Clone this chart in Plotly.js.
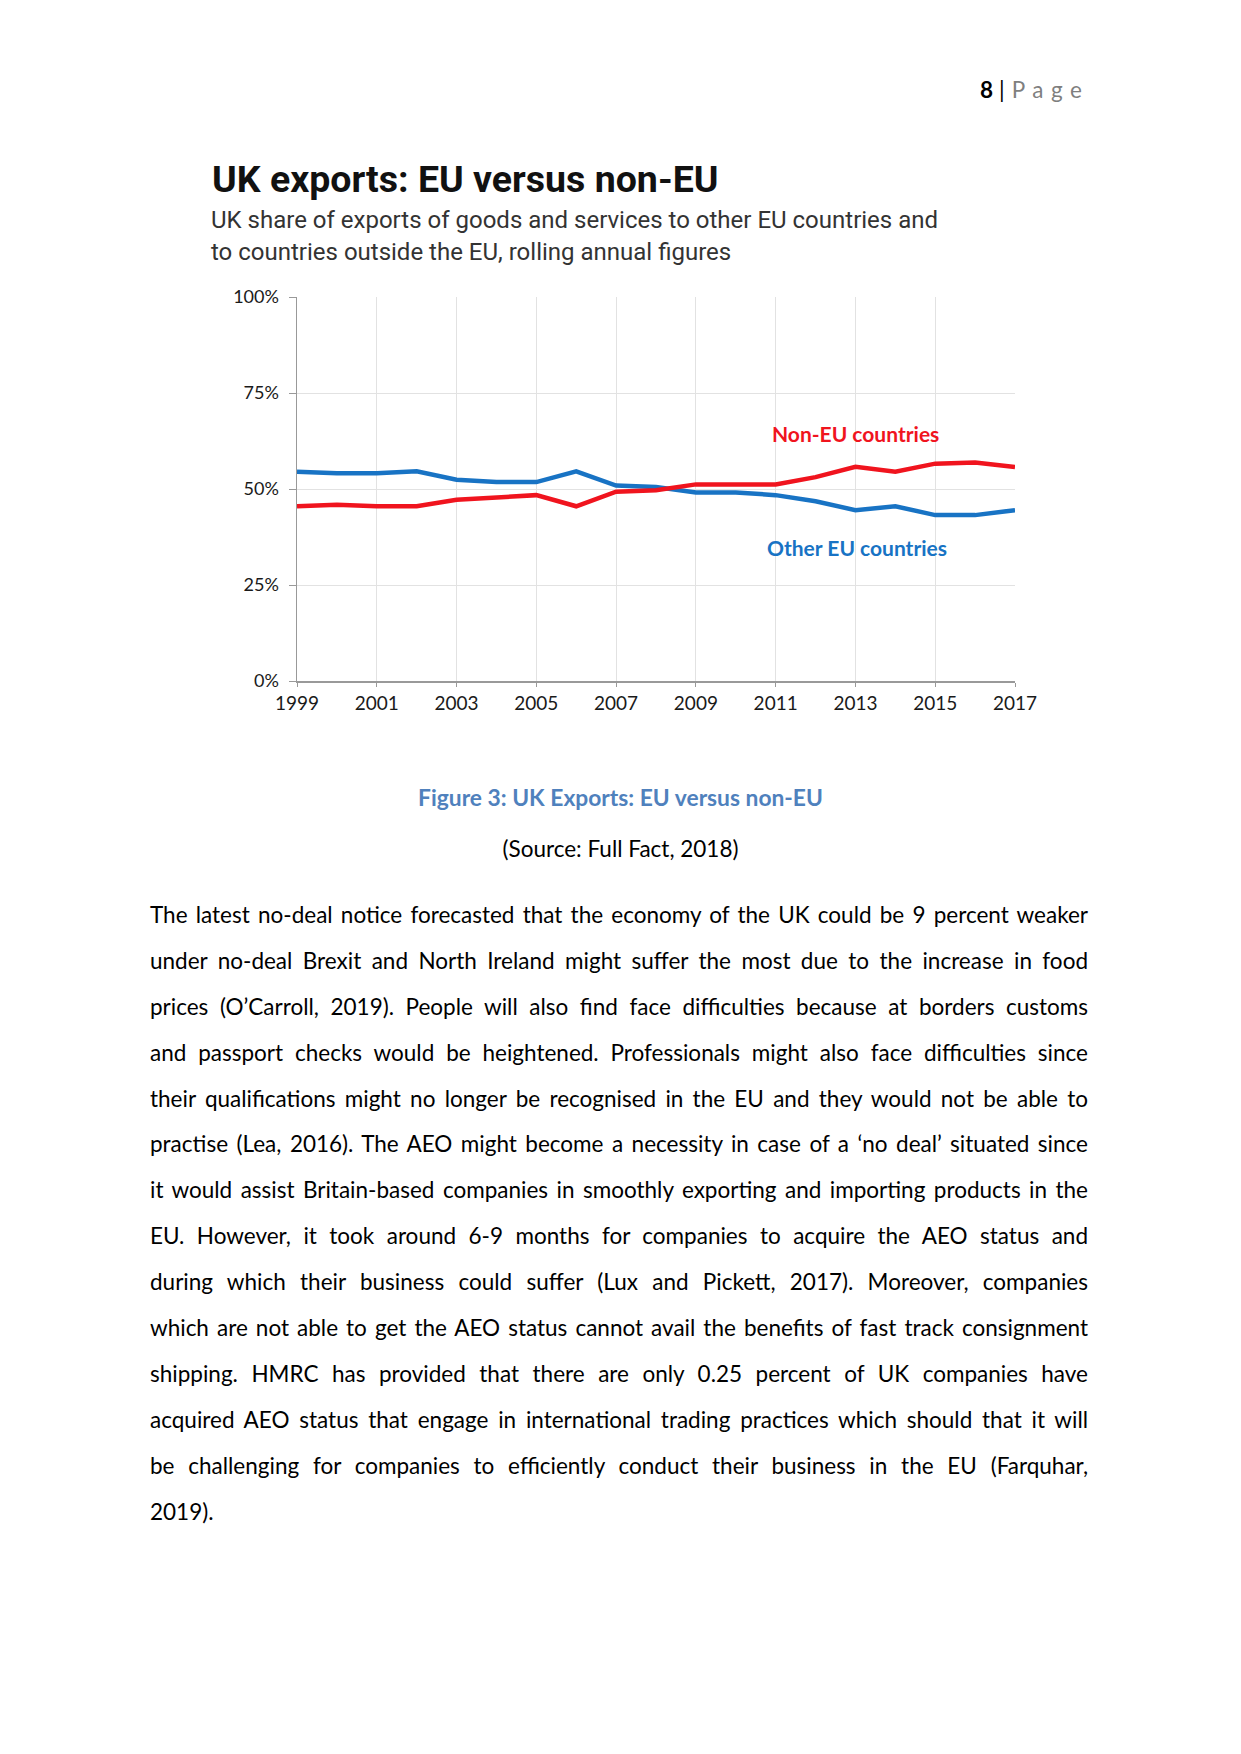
<!DOCTYPE html>
<html>
<head>
<meta charset="utf-8">
<script src="https://cdn.plot.ly/plotly-3.0.1.min.js"></script>
<style>
  html, body { margin:0; padding:0; background:#fff; }
  body { width:1241px; height:1754px; position:relative; overflow:hidden; font-family: Lato, "Noto Sans", sans-serif; }
  #chart { position:absolute; left:0; top:130px; width:1241px; height:610px; }
  .hdr { position:absolute; top:74px; left:980px; font-size:22.5px; line-height:32px; white-space:nowrap; }
  .hdr b { color:#000; font-weight:700; }
  .hdr .bar { color:#000; margin:0 7px 0 6px; }
  .hdr .pg { color:#7f7f7f; letter-spacing:7.5px; }
  .cap { position:absolute; left:0; width:1241px; text-align:center; white-space:nowrap; }
  #caption { top:781px; color:#4f81bd; font-weight:700; font-size:22.8px; line-height:32px; }
  #source { top:833px; color:#000; font-size:22.5px; line-height:32px; }
  #body { position:absolute; left:150px; top:892px; width:938px; font-size:22.5px; line-height:45.9px; color:#000; }
  .ln { white-space:nowrap; height:45.9px; }
</style>
</head>
<body>
<div class="hdr"><b>8</b><span class="bar">|</span><span class="pg">Page</span></div>
<div id="chart"></div>
<div class="cap" id="caption">Figure 3: UK Exports: EU versus non-EU</div>
<div class="cap" id="source">(Source: Full Fact, 2018)</div>
<div id="body"></div>
<script>
// ---- chart data ----
const years = [1999,2000,2001,2002,2003,2004,2005,2006,2007,2008,2009,2010,2011,2012,2013,2014,2015,2016,2017];
const otherEU = [54.5,54.1,54.1,54.6,52.4,51.8,51.8,54.6,50.9,50.5,49.1,49.1,48.4,46.8,44.5,45.5,43.2,43.2,44.5];
const nonEU   = [45.5,45.9,45.5,45.5,47.2,47.9,48.4,45.5,49.3,49.7,51.2,51.2,51.2,53.1,55.8,54.5,56.6,56.9,55.7];
const xTickVals = [1999,2001,2003,2005,2007,2009,2011,2013,2015,2017];
const yTickVals = [0,25,50,75,100];
const yTickText = ["0%","25%","50%","75%","100%"];
const chartTitle = "UK exports: EU versus non-EU";
const subtitleLines = ["UK share of exports of goods and services to other EU countries and",
                       "to countries outside the EU, rolling annual figures"];
const seriesNames = ["Other EU countries","Non-EU countries"];

// ---- body text ----
const bodyLines = [
 "The latest no-deal notice forecasted that the economy of the UK could be 9 percent weaker",
 "under no-deal Brexit and North Ireland might suffer the most due to the increase in food",
 "prices (O\u2019Carroll, 2019). People will also find face difficulties because at borders customs",
 "and passport checks would be heightened. Professionals might also face difficulties since",
 "their qualifications might no longer be recognised in the EU and they would not be able to",
 "practise (Lea, 2016). The AEO might become a necessity in case of a \u2018no deal\u2019 situated since",
 "it would assist Britain-based companies in smoothly exporting and importing products in the",
 "EU. However, it took around 6-9 months for companies to acquire the AEO status and",
 "during which their business could suffer (Lux and Pickett, 2017). Moreover, companies",
 "which are not able to get the AEO status cannot avail the benefits of fast track consignment",
 "shipping. HMRC has provided that there are only 0.25 percent of UK companies have",
 "acquired AEO status that engage in international trading practices which should that it will",
 "be challenging for companies to efficiently conduct their business in the EU (Farquhar,",
 "2019)."
];

const blue = "#1873c4", red = "#f0141e";
const traces = [
  {x: years, y: otherEU, name: seriesNames[0], type:"scatter", mode:"lines", line:{color:blue, width:4.5}},
  {x: years, y: nonEU, name: seriesNames[1], type:"scatter", mode:"lines", line:{color:red, width:4.5}}
];
const W = 718.5, H = 385;
function px(X){ return (X-296.5)/W; }
function py(Y){ return (681.5-Y)/H; }
const layout = {
  width:1241, height:610,
  margin:{l:296.5, r:226, t:166.5, b:58.5},
  paper_bgcolor:"#fff", plot_bgcolor:"#fff",
  showlegend:false,
  xaxis:{range:[1999,2017], tickvals:xTickVals, ticktext:xTickVals.map(String),
    showgrid:true, gridcolor:"#e2e2e2", gridwidth:1, zeroline:false,
    showline:true, linecolor:"#999", linewidth:1.5, ticks:"outside", ticklen:4, tickcolor:"#999",
    ticklabelstandoff:1,
    tickfont:{family:"Lato, sans-serif", size:19, color:"#1a1a1a"}},
  yaxis:{range:[0,100], tickvals:yTickVals, ticktext:yTickText,
    showgrid:true, gridcolor:"#e2e2e2", gridwidth:1, zeroline:false,
    showline:true, linecolor:"#999", linewidth:1.5, ticks:"outside", ticklen:7, tickcolor:"#999",
    ticklabelstandoff:6,
    tickfont:{family:"Lato, sans-serif", size:18, color:"#1a1a1a"}},
  annotations:[
    {text:"<b>"+chartTitle+"</b>", xref:"paper", yref:"paper", x:px(209), y:py(178), xanchor:"left", yanchor:"middle",
     showarrow:false, font:{family:"Roboto, sans-serif", size:37.5, color:"#111"}},
    {text:subtitleLines[0], xref:"paper", yref:"paper", x:px(208), y:py(219), xanchor:"left", yanchor:"middle",
     showarrow:false, font:{family:"Roboto, sans-serif", size:24, color:"#333"}},
    {text:subtitleLines[1], xref:"paper", yref:"paper", x:px(208), y:py(251), xanchor:"left", yanchor:"middle",
     showarrow:false, font:{family:"Roboto, sans-serif", size:24, color:"#333"}},
    {text:"<b>Non-EU countries</b>", xref:"x", yref:"y", x:2013.0, y:64.5, xanchor:"center", yanchor:"middle",
     showarrow:false, font:{family:"Lato, sans-serif", size:21, color:red}},
    {text:"<b>Other EU countries</b>", xref:"x", yref:"y", x:2013.05, y:34.7, xanchor:"center", yanchor:"middle",
     showarrow:false, font:{family:"Lato, sans-serif", size:21, color:blue}}
  ]
};
Plotly.newPlot("chart", traces, layout, {displayModeBar:false, staticPlot:true});

// ---- body text with per-line justification ----
const body = document.getElementById("body");
bodyLines.forEach((t, i) => {
  const d = document.createElement("div");
  d.className = "ln";
  const s = document.createElement("span");
  s.textContent = t;
  d.appendChild(s);
  body.appendChild(d);
  if (i < bodyLines.length - 1) {
    const w = s.getBoundingClientRect().width;
    const n = (t.match(/ /g) || []).length;
    if (n > 0) s.style.wordSpacing = ((938 - w) / n) + "px";
  }
});
</script>
</body>
</html>
